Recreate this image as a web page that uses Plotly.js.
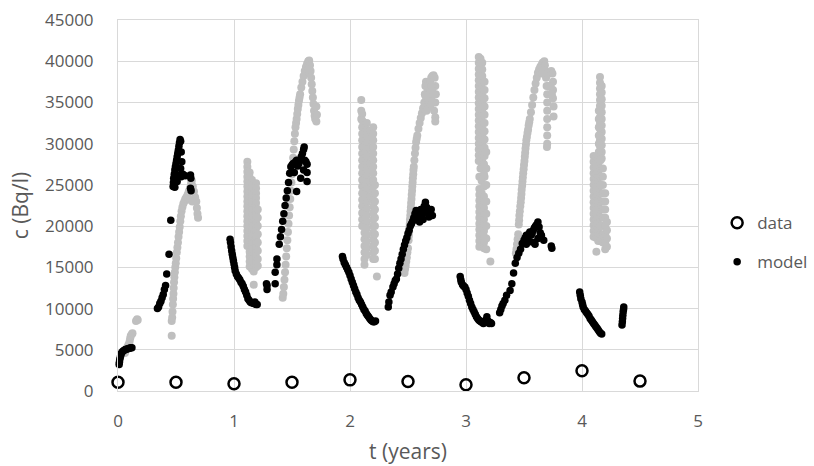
<!DOCTYPE html>
<html>
<head>
<meta charset="utf-8">
<script src="https://cdn.plot.ly/plotly-3.0.1.min.js"></script>
<style>html,body{margin:0;padding:0;background:#fff;}#chart{width:814px;height:466px;}</style>
</head>
<body>
<div id="chart"></div>
<script>
// ---- measured data (open circles) ----
const dataT = [0, 0.5, 1, 1.5, 2, 2.5, 3, 3.5, 4, 4.5];
const dataC = [1050, 1050, 880, 1050, 1350, 1150, 750, 1600, 2450, 1200];

// ---- model (black dots), [t, c] pairs per season ----
const model0 = [[0.01,3200],[0.012,3500],[0.015,3800],[0.02,4100],[0.025,4400],[0.03,4600],[0.04,4800],[0.05,4900],[0.06,5000],[0.07,5050],[0.08,5100],[0.09,5150],[0.10,5200],[0.11,5250],[0.12,5250]];
const model05 = [[0.34,10000],[0.35,10200],[0.36,10600],[0.37,10900],[0.38,11300],[0.39,11700],[0.40,12300],[0.41,12800],[0.42,14200],[0.44,16600],[0.455,20700],
 [0.475,24800],[0.478,25300],[0.48,25800],[0.485,26300],[0.49,26800],[0.495,27200],[0.50,27600],[0.505,28000],[0.51,28400],[0.515,28800],[0.52,29200],[0.525,29700],[0.53,30100],[0.535,30500],[0.54,30300],[0.545,29000],[0.55,27800],[0.54,27000],[0.53,26200],[0.545,26000],[0.51,25400],[0.49,24700],[0.56,26300],[0.58,26100],[0.625,26200],[0.628,25800],[0.625,24600],[0.63,24300]];
const model1 = [[0.966,18400],[0.97,18000],[0.975,17500],[0.98,17000],[0.985,16600],[0.99,16200],[0.995,15800],[1.0,15400],[1.005,15000],[1.01,14600],[1.02,14200],[1.03,13900],[1.04,13700],[1.05,13500],[1.06,13200],[1.07,13000],[1.08,12700],[1.09,12300],[1.10,12000],[1.11,11600],[1.12,11200],[1.13,11000],[1.14,10800],[1.15,10700],[1.16,10700],[1.17,10600],[1.18,10800],[1.19,10500],[1.20,10500]];
const model15 = [[1.28,13000],[1.285,12300],[1.285,12800],[1.355,13000],[1.355,14400],[1.37,16000],[1.37,15300],[1.39,17800],[1.40,18700],[1.41,19600],[1.42,20600],[1.43,21500],[1.44,22500],[1.45,23400],[1.46,24300],[1.47,25300],[1.48,26400],[1.49,27200],[1.50,27400],[1.51,27600],[1.52,27500],[1.53,27800],[1.54,28000],[1.55,27300],[1.56,27600],[1.57,28000],[1.58,28400],[1.59,28800],[1.60,29300],[1.605,29600],[1.61,28000],[1.62,27800],[1.63,27500],[1.54,24200],[1.63,26500],[1.63,25400],[1.575,25800],[1.6,26800],[1.52,26500]];
const model2 = [[1.935,16300],[1.94,16000],[1.95,15600],[1.96,15300],[1.97,15000],[1.98,14700],[1.99,14400],[2.0,14000],[2.01,13600],[2.02,13200],[2.03,12800],[2.04,12400],[2.05,12000],[2.06,11700],[2.07,11300],[2.08,11000],[2.09,10800],[2.10,10500],[2.11,10200],[2.12,9900],[2.13,9700],[2.14,9400],[2.15,9200],[2.16,9000],[2.17,8800],[2.18,8600],[2.19,8500],[2.20,8400],[2.21,8400],[2.22,8500]];
const model25 = [[2.33,10200],[2.335,10800],[2.345,11600],[2.355,12000],[2.37,12600],[2.38,13000],[2.39,13400],[2.40,13600],[2.41,14200],[2.42,14900],[2.43,15500],[2.44,16000],[2.45,16600],[2.46,17200],[2.47,17700],[2.48,18200],[2.49,18600],[2.50,19100],[2.51,19500],[2.52,20000],[2.53,20300],[2.54,20600],[2.55,21000],[2.56,21500],[2.57,21900],[2.58,21300],[2.59,21000],[2.60,21500],[2.61,22000],[2.62,21200],[2.63,21800],[2.64,22400],[2.65,22900],[2.66,22300],[2.67,21600],[2.68,21100],[2.69,21500],[2.70,22000],[2.71,21300],[2.60,20500],[2.63,20800]];
const model3 = [[2.95,13900],[2.955,13500],[2.96,13200],[2.97,12900],[2.98,12700],[2.99,12600],[3.0,12300],[3.01,11900],[3.02,11500],[3.03,11000],[3.04,10600],[3.05,10200],[3.06,9900],[3.07,9600],[3.08,9300],[3.09,9000],[3.10,8800],[3.11,8600],[3.12,8500],[3.13,8400],[3.14,8300],[3.15,8200],[3.16,8300],[3.17,8600],[3.18,9000],[3.19,8500],[3.20,8200],[3.21,8300],[3.22,8200]];
const model35 = [[3.29,9500],[3.30,9900],[3.31,10300],[3.32,10600],[3.335,11000],[3.35,11600],[3.38,12200],[3.395,13000],[3.41,14300],[3.425,15500],[3.44,16200],[3.455,16700],[3.47,17200],[3.485,17900],[3.50,18300],[3.51,18600],[3.52,18900],[3.53,18700],[3.54,19000],[3.55,19300],[3.56,18900],[3.57,19100],[3.58,19500],[3.59,19800],[3.60,20000],[3.61,20200],[3.62,20500],[3.63,19900],[3.64,19200],[3.585,18000],[3.595,17800],[3.62,18500],[3.65,18900],[3.67,18300],[3.74,17300],[3.735,17600],[3.52,17800],[3.55,18100]];
const model4 = [[3.98,12000],[3.985,11600],[3.99,11200],[4.0,10800],[4.005,10500],[4.01,10200],[4.02,9900],[4.03,9700],[4.04,9500],[4.05,9300],[4.06,9100],[4.07,8800],[4.08,8600],[4.09,8400],[4.10,8200],[4.11,8000],[4.12,7800],[4.13,7600],[4.14,7400],[4.15,7200],[4.16,7000],[4.17,6900],
 [4.345,8000],[4.348,8400],[4.35,8800],[4.352,9200],[4.355,9600],[4.358,9900],[4.36,10200]];

// ---- grey (unlabelled) series, [t, c] pairs and vertical strands [t, [c...]] ----
const grey0 = [[0.06,4600],[0.07,5000],[0.08,5300],[0.09,5600],[0.10,6000],[0.105,6400],[0.11,6700],[0.12,6900],[0.125,7000],[0.155,8500],[0.165,8700],[0.17,8600]];
const grey05 = [[0.463,6700],[0.463,8500],[0.467,8900],[0.47,9600],[0.473,10500],[0.475,11200],[0.478,11800],[0.48,12500],[0.483,13200],[0.486,13800],[0.49,14400],[0.494,15000],[0.498,15500],[0.502,16100],[0.507,16800],[0.512,17400],[0.517,18000],[0.522,18700],[0.527,19300],[0.532,19900],[0.537,20600],[0.542,21200],[0.548,21800],[0.555,22300],[0.563,22700],[0.572,23000],[0.58,23300],[0.59,23500],[0.60,23800],[0.61,24200],[0.62,24600],[0.63,25200],[0.636,25500],[0.645,24800],[0.655,24200],[0.665,23500],[0.675,23000],[0.68,22200],[0.685,21500],[0.69,21000],[0.62,23200],[0.64,23000]];
const grey1 = [
 [1.115,[27800,27200,26600,26000,25400,24800,24200,23600,23000,22400,21800,21200,20600,20000,19400,18800,18200,17600]],
 [1.135,[26500,25900,25300,24700,24100,23500,22900,22300,21700,21100,20500,19900,19300,18700,18100,17500,16900,16300,15700,15100]],
 [1.155,[25600,25000,24400,23800,23200,22600,22000,21400,20800,20200,19600,19000,18400,17800,17200,16600,16000,15400,14800]],
 [1.17,[24000,23000,22000,21000,20000,19000,18000,17000,16000,15000,14500,12900]],
 [1.19,[25200,24600,24000,23400,22800,22200,21600,21000,20400,19800,19200,18600,18000,17400,16800,16200,15600,15000]],
 [1.205,[22000,21000,20000,19000,18000,17000,16000,15200]]];
const grey15 = [[1.42,11300],[1.425,11800],[1.43,12600],[1.435,13500],[1.44,14400],[1.445,15300],[1.45,16300],[1.455,17300],[1.46,18300],[1.465,19300],[1.47,20300],[1.475,21300],[1.48,22300],[1.485,23300],[1.49,24300],[1.495,25300],[1.50,26300],[1.505,27300],[1.51,28300],[1.515,29300],[1.52,30300],[1.525,31200],[1.53,32000],[1.535,32500],[1.54,33000],[1.545,33600],[1.55,34200],[1.555,34700],[1.56,35200],[1.565,35600],[1.57,36000],[1.58,36800],[1.59,37500],[1.60,38200],[1.61,38800],[1.62,39300],[1.63,39700],[1.64,40000],[1.648,40100],[1.655,39500],[1.66,38800],[1.665,38000],[1.67,37200],[1.675,36400],[1.68,35600],[1.685,34800],[1.69,34000],[1.695,33400],[1.70,33000],[1.71,32700],[1.715,33500],[1.71,34500],[1.65,38500],[1.64,39000]];
const grey2 = [
 [2.097,[35300,34000,33000]],
 [2.105,[33600,32800,32000,31200,30400,29600,28800,28000,27200,26400,25600,24800,24000,23200,22400,21600,20800,20000]],
 [2.125,[32000,31200,30400,29600,28800,28000,27200,26400,25600,24800,24000,23200,22400,21600,20800,20000,19200,18400,17600,16800,16000,15300]],
 [2.145,[32500,31700,30900,30100,29300,28500,27700,26900,26100,25300,24500,23700,22900,22100,21300,20500,19700,18900,18100,17300,16500]],
 [2.175,[31500,30500,29500,28500,27500,26500,25500,24500,23500]],
 [2.2,[32000,31200,30400,29600,28800,28000,27200,26400,25600,24800,24000,23200,22400,21600,20800,20000,19200,18400,17600,16800,16000]],
 [2.215,[25000,24000,23000,22000,21000,20000,19000,18000,17000,16000]],
 [2.232,[13900]]];
const grey25 = [[2.47,14300],[2.475,14800],[2.48,15200],[2.485,15700],[2.49,16200],[2.495,16800],[2.50,17300],[2.505,18300],[2.507,18800],[2.51,19300],[2.512,19800],[2.515,20300],[2.517,20800],[2.52,21300],[2.522,21800],[2.525,22300],[2.527,22800],[2.53,23300],[2.532,23800],[2.535,24300],[2.537,24800],[2.54,25300],[2.542,25800],[2.545,26300],[2.547,26800],[2.55,27200],[2.555,28000],[2.56,28800],[2.565,29500],[2.57,30200],[2.575,30600],[2.58,31000],[2.59,31800],[2.60,32500],[2.61,33100],[2.62,33700],[2.63,34300],[2.64,35000],[2.645,36000],[2.65,37000],[2.655,37500],[2.66,37000],[2.67,36500],[2.68,37000],[2.69,37500],[2.70,38000],[2.71,38200],[2.72,38300],[2.73,38000],[2.735,37000],[2.74,36000],[2.735,35000],[2.725,34000],[2.735,33200],[2.735,32700],[2.66,35500],[2.68,35000],[2.69,34500],[2.70,35500],[2.71,36500],[2.66,34000],[2.68,36000],[2.70,37000],[2.72,36000],[2.72,35000],[2.65,35800]];
const grey3 = [
 [3.11,[40500,39800,39100,38400,37700,37000,36300,35600,34900,34200,33500,32800,32100,31400,30700,30000,29300,28600,27900]],
 [3.125,[40300,39600,38900,38200,37500,36800,36100,35400,34700,34000,33300,32600,31900,31200,30500,29800,27000]],
 [3.14,[39800,39000,38200,37400,36600,35800,35000,34200,33400,32600,31800,31000,30200,29400,28600,27800,27000]],
 [3.16,[37500,36500,35500,34500,33500,32500,31500,30500,29500,28500,26000]],
 [3.115,[26000,24500,23800,23100,22400,21700,21000,20300,19600,18900,18200,17500]],
 [3.135,[25500,24000,22800,22000,21300,20500,19800,19000,18300]],
 [3.155,[27500,26300,24800,23600,22900,22200,21500,20800,20100,19400,18700,18000,17300]],
 [3.175,[29000,27000,25000,23000,21500,20000,18500,17200]],
 [3.21,[15700]]];
const grey35 = [[3.43,16700],[3.435,17200],[3.44,17800],[3.445,18400],[3.45,19000],[3.455,20200],[3.458,20700],[3.46,21300],[3.464,21800],[3.468,22400],[3.472,22900],[3.475,23400],[3.478,23900],[3.48,24400],[3.484,24900],[3.487,25400],[3.49,25900],[3.493,26400],[3.497,26900],[3.50,27400],[3.504,27900],[3.507,28400],[3.51,28900],[3.513,29400],[3.517,29900],[3.52,30400],[3.525,30800],[3.53,31300],[3.535,31700],[3.54,32200],[3.545,32600],[3.55,33000],[3.56,33800],[3.57,34700],[3.58,35600],[3.59,36500],[3.60,37300],[3.61,38000],[3.62,38600],[3.63,39000],[3.64,39300],[3.65,39500],[3.66,39800],[3.675,40000],[3.68,39500],[3.685,38800],[3.69,38000],[3.695,37000],[3.70,36000],[3.70,35000],[3.70,34000],[3.70,33000],[3.70,32000],[3.70,31000],[3.70,30000],[3.698,29600],[3.72,38500],[3.735,38800],[3.745,38500],[3.75,37500],[3.75,36500],[3.75,35500],[3.755,34500],[3.755,33300],[3.73,37000],[3.72,36000],[3.74,36000],[3.71,37000],[3.66,38900],[3.65,38500]];
const grey4 = [
 [4.155,[38100,37400,36700,36000,35300,34600,33900,33200,32500,31800,31100,30400,29700,29000]],
 [4.17,[37000,36200,35400,34600,33800,33000,32200,31400,30600,29800,29000,28200]],
 [4.145,[34000,33000,32000,31000,30000,29000,28000]],
 [4.10,[28500,27800,27100,26400,25700,25000,24300,23600,22900,22200,21500,20800,20100,19400,18700]],
 [4.12,[28400,27700,27000,26300,25600,24900,24200,23500,22800,22100,21400,20700,20000,19300,18600]],
 [4.14,[28000,27300,26600,25900,25200,24500,23800,23100,22400,21700,21000,20300,19600,18900,18200]],
 [4.16,[28000,27000,26000,25000,24000,23000,22000,21000,20000,19000,18200]],
 [4.18,[27000,26000,25000,24000,23000,22000,21000,20000,19000,18000]],
 [4.20,[24000,23000,22000,21000,20000,19000,18000,17200]],
 [4.215,[20500,19500,18500,17500]],
 [4.124,[16900]]];

// ---- assemble ----
function fromPairs(list){ return list.reduce((a,p)=>{a.x.push(p[0]);a.y.push(p[1]);return a;},{x:[],y:[]}); }
function fromStrands(list){ const o={x:[],y:[]}; list.forEach(s=>s[1].forEach(c=>{o.x.push(s[0]);o.y.push(c);})); return o; }
function join(parts){ return parts.reduce((a,p)=>({x:a.x.concat(p.x),y:a.y.concat(p.y)}),{x:[],y:[]}); }

const modelAll = join([model0,model05,model1,model15,model2,model25,model3,model35,model4].map(fromPairs));
const greyAll = join([fromPairs(grey0),fromPairs(grey05),fromStrands(grey1),fromPairs(grey15),fromStrands(grey2),fromPairs(grey25),fromStrands(grey3),fromPairs(grey35),fromStrands(grey4)]);

const FONT = 'Open Sans, Liberation Sans, sans-serif';
const TXT = '#595959';

const traces = [
  {type:'scatter', mode:'markers', x:greyAll.x, y:greyAll.y, showlegend:false, hoverinfo:'skip',
   marker:{color:'#bfbfbf', size:8}, cliponaxis:false},
  {type:'scatter', mode:'markers', name:'model', x:modelAll.x, y:modelAll.y, legendrank:2, legendgroup:'m',
   marker:{color:'#000000', size:7.5}, cliponaxis:false},
  {type:'scatter', mode:'markers', name:'data', x:dataT, y:dataC, legendrank:1, legendgroup:'d',
   marker:{symbol:'circle-open', color:'#000000', size:11, line:{width:2.5, color:'#000000'}}, cliponaxis:false}
];

const layout = {
  width:814, height:466,
  margin:{l:118, r:116, t:20, b:75, autoexpand:false},
  paper_bgcolor:'#ffffff', plot_bgcolor:'#ffffff',
  font:{family:FONT, color:TXT, size:17},
  xaxis:{range:[0,5], tick0:0, dtick:1, showgrid:true, gridcolor:'#d9d9d9', gridwidth:1,
         zeroline:false, showline:true, linecolor:'#d9d9d9', mirror:true, ticks:'', ticklabelstandoff:15,
         tickfont:{family:FONT, size:17, color:TXT},
         title:{text:'t (years)', font:{family:FONT, size:21, color:TXT}, standoff:12}},
  yaxis:{range:[0,45000], tick0:0, dtick:5000, tickformat:'d', showgrid:true, gridcolor:'#d9d9d9', gridwidth:1,
         zeroline:false, showline:true, linecolor:'#d9d9d9', mirror:true, ticks:'', ticklabelstandoff:20,
         tickfont:{family:FONT, size:17, color:TXT},
         title:{text:'c (Bq/l)', font:{family:FONT, size:21, color:TXT}, standoff:10}},
  legend:{x:1.033, y:0.40, xanchor:'left', yanchor:'middle', traceorder:'grouped', tracegroupgap:14,
          font:{family:FONT, size:17, color:TXT}, bgcolor:'rgba(0,0,0,0)', itemwidth:30},
  showlegend:true
};

Plotly.newPlot('chart', traces, layout, {displayModeBar:false, staticPlot:true});
</script>
</body>
</html>
